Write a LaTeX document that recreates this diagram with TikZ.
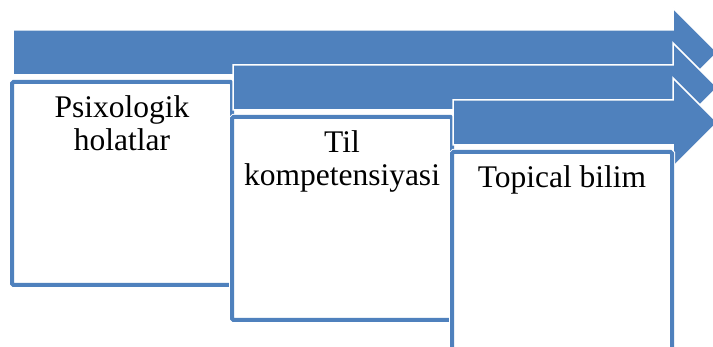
\documentclass[tikz,border=0pt]{standalone}
\usepackage{fontspec}
\setmainfont{Liberation Serif}
\usepackage{xcolor}
\usepackage{tikz}
\usetikzlibrary{positioning}
\definecolor{stepblue}{HTML}{4F81BD}

\begin{document}
\begin{tikzpicture}[
    x=1pt, y=-1pt,
    arrowbar/.style={fill=stepblue, draw=white, line width=1.5pt, line join=miter},
    stepbox/.style={rectangle, draw=stepblue, fill=white, line width=4pt,
        rounded corners=1.5pt, minimum width=220pt, minimum height=203pt,
        anchor=north west, inner sep=0pt, preaction={draw=white, line width=6pt}},
    steptext/.style={align=center, inner sep=0pt, font=\fontsize{31.5pt}{33pt}\selectfont}
]
\useasboundingbox (0,0) rectangle (713,347);
\clip (0,0) rectangle (713,347);

% Step 1
\filldraw[arrowbar] (13,30) -- (673,30) -- (673,8) -- (717.5,52.5) -- (673,97) -- (673,75) -- (13,75) -- cycle;
\node[stepbox] (psix) at (10,80) {};
\node[steptext, below=15pt of psix.north] (psixtext) {Psixologik\\holatlar};

% Step 2
\filldraw[arrowbar] (233,65) -- (673,65) -- (673,43) -- (717.5,87.5) -- (673,132) -- (673,110) -- (233,110) -- cycle;
\node[stepbox] (til) at (230,115) {};
\node[steptext, below=15pt of til.north] (tiltext) {Til\\kompetensiyasi};

% Step 3
\filldraw[arrowbar] (453,100) -- (673,100) -- (673,78) -- (717.5,122.5) -- (673,167) -- (673,145) -- (453,145) -- cycle;
\node[stepbox] (topic) at (450,150) {};
\node[steptext, below=15pt of topic.north] (topictext) {Topical bilim};

\end{tikzpicture}
\end{document}
